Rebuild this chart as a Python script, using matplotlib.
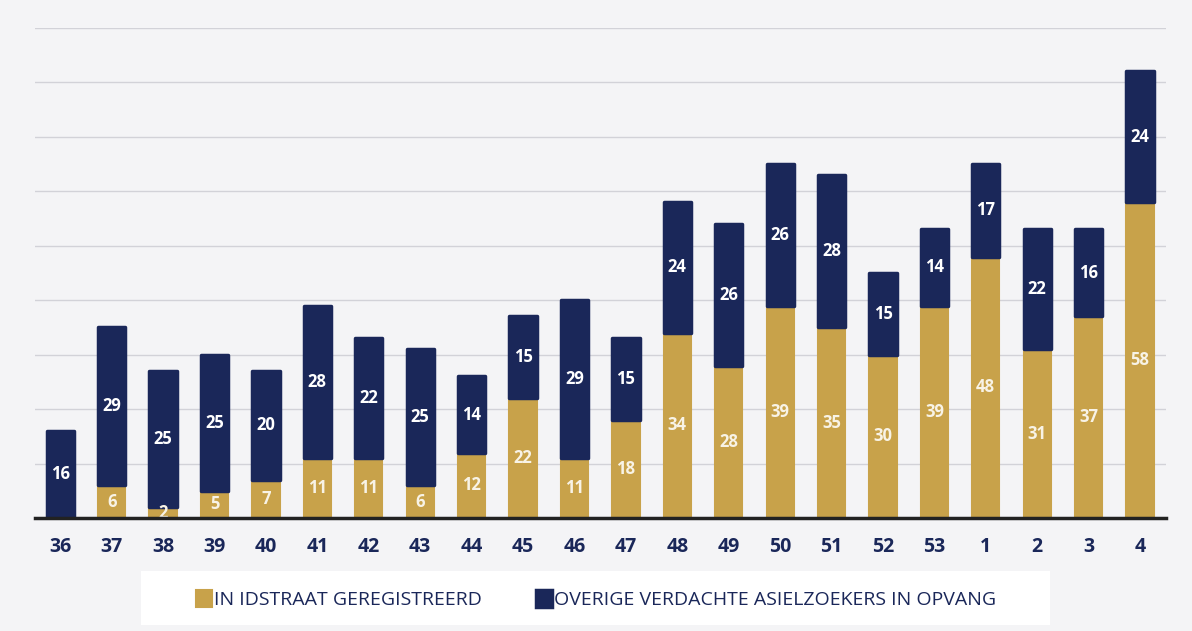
"""Stacked weekly bar chart: registered vs. other suspected asylum seekers."""

import matplotlib
matplotlib.use("Agg")
import matplotlib.pyplot as plt
from matplotlib.patches import Rectangle
import numpy as np

weeks = ["36", "37", "38", "39", "40", "41", "42", "43", "44", "45", "46",
         "47", "48", "49", "50", "51", "52", "53", "1", "2", "3", "4"]
registered = [0, 6, 2, 5, 7, 11, 11, 6, 12, 22, 11, 18, 34, 28, 39, 35, 30, 39, 48, 31, 37, 58]
other = [16, 29, 25, 25, 20, 28, 22, 25, 14, 15, 29, 15, 24, 26, 26, 28, 15, 14, 17, 22, 16, 24]

GOLD = "#C8A24A"
NAVY = "#1A2759"

plt.rcParams["font.family"] = ["Open Sans", "DejaVu Sans"]

fig = plt.figure(figsize=(11.92, 6.31), dpi=100, facecolor="#f4f4f6")
ax = fig.add_axes([0.029, 0.179, 0.949, 0.777])
ax.set_facecolor("none")

x = np.arange(len(weeks))
reg = np.array(registered)
oth = np.array(other)

ax.bar(x, reg, width=0.53, color=GOLD, edgecolor=GOLD, linewidth=1.5,
       joinstyle="round", zorder=3, label="IN IDSTRAAT GEREGISTREERD")
ax.bar(x, oth, width=0.53, bottom=reg, color=NAVY, edgecolor=NAVY, linewidth=2.5,
       joinstyle="round", zorder=3, label="OVERIGE VERDACHTE ASIELZOEKERS IN OPVANG")

# Value labels centred in each segment
for xi, r, o in zip(x, reg, oth):
    if r > 0:
        ax.text(xi, r / 2, str(r), ha="center", va="center", color="#f8f3e6",
                fontsize=12, fontweight="bold", zorder=4)
    ax.text(xi, r + o / 2, str(o), ha="center", va="center", color="white",
            fontsize=12, fontweight="bold", zorder=4)

ax.set_xlim(-0.5, len(weeks) - 0.5)
ax.set_ylim(0, 90)
ax.set_yticks(np.arange(10, 91, 10))
ax.yaxis.grid(True, color="#d2d2d8", linewidth=1.0, zorder=0)
ax.tick_params(axis="y", length=0, labelleft=False)
ax.tick_params(axis="x", length=0, pad=14)
ax.set_xticks(x)
ax.set_xticklabels(weeks, fontsize=14, fontweight="bold", color=NAVY)

for side in ["top", "right", "left"]:
    ax.spines[side].set_visible(False)
ax.spines["bottom"].set_color("#222222")
ax.spines["bottom"].set_linewidth(2.5)
ax.spines["bottom"].set_zorder(5)

# White legend panel
fig.patches.append(Rectangle((0.118, 0.01), 0.763, 0.085, transform=fig.transFigure,
                             facecolor="white", edgecolor="none", zorder=0))
leg = fig.legend(loc="center", bbox_to_anchor=(0.5, 0.05), ncol=2, frameon=False,
                 fontsize=14, handlelength=0.8, handleheight=1.0, handletextpad=0.1,
                 columnspacing=2.8)
for t in leg.get_texts():
    t.set_color(NAVY)

fig.savefig("out.png", dpi=100, facecolor=fig.get_facecolor())
